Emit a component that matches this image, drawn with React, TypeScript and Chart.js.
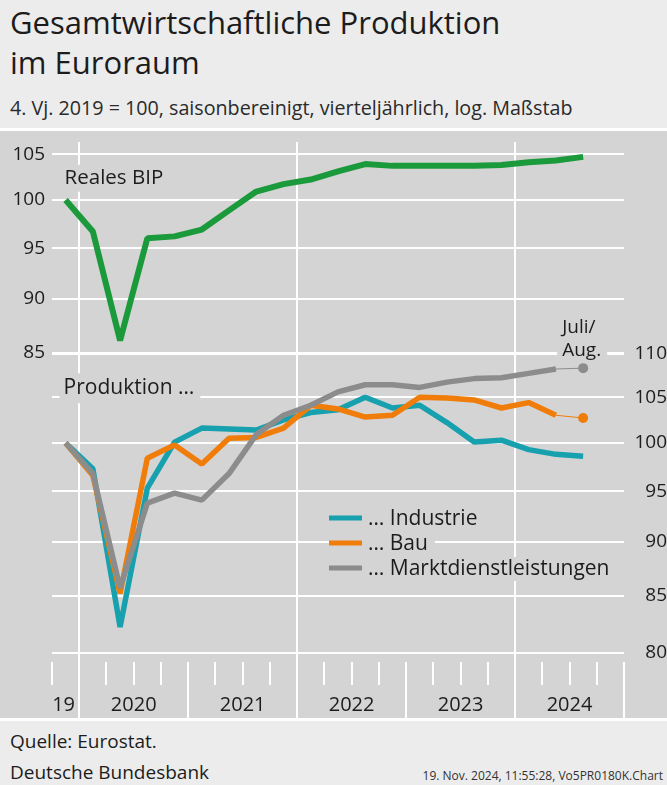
import React, { useEffect, useRef } from "react";
import { Chart, registerables } from "chart.js";

Chart.register(...registerables);

// ---------- data ----------
const quarters = [
  "4. Vj. 2019",
  "1. Vj. 2020", "2. Vj. 2020", "3. Vj. 2020", "4. Vj. 2020",
  "1. Vj. 2021", "2. Vj. 2021", "3. Vj. 2021", "4. Vj. 2021",
  "1. Vj. 2022", "2. Vj. 2022", "3. Vj. 2022", "4. Vj. 2022",
  "1. Vj. 2023", "2. Vj. 2023", "3. Vj. 2023", "4. Vj. 2023",
  "1. Vj. 2024", "2. Vj. 2024", "3. Vj. 2024", "4. Vj. 2024",
];

const bip = [100, 96.7, 86.1, 96.0, 96.2, 96.9, 98.9, 100.9, 101.7, 102.2, 103.1, 103.9, 103.7, 103.7, 103.7, 103.7, 103.8, 104.1, 104.3, 104.7];
const industrie = [100, 97.3, 82.2, 95.3, 100.1, 101.6, 101.5, 101.4, 102.5, 103.3, 103.6, 105.0, 103.8, 104.1, 102.2, 100.1, 100.3, 99.3, 98.8, 98.6];
const bau = [100, 96.6, 85.2, 98.4, 99.8, 97.8, 100.5, 100.6, 101.6, 104.1, 103.7, 102.8, 103.0, 105.0, 104.9, 104.7, 103.8, 104.4, 103.0];
const marktdienst = [100, 96.8, 85.7, 93.8, 94.8, 94.1, 96.8, 100.9, 103.0, 104.1, 105.6, 106.4, 106.4, 106.1, 106.7, 107.1, 107.2, 107.7, 108.2];
const bauJulAug = 102.7;
const marktdienstJulAug = 108.3;

const bipTicks = [85, 90, 95, 100, 105];
const prodTicks = [80, 85, 90, 95, 100, 105, 110];

const legendItems = ["… Industrie", "… Bau", "… Marktdienstleistungen"];

// ---------- styles ----------
const FONT = "'Open Sans', 'Noto Sans', sans-serif";
const TEXT = "#1c1c1c";
const PLOT_BG = "#d4d4d4";
const GREEN = "#1b9a3b";
const TEAL = "#17a0ad";
const ORANGE = "#f07d0a";
const GREY = "#8c8c8c";
const legendColors = [TEAL, ORANGE, GREY];

const yearOf = (i: number) => parseInt(quarters[i].slice(-4), 10);

const tail = (arr: number[], last: number) =>
  quarters.map((_, i) => (i === arr.length - 1 ? arr[arr.length - 1] : i === arr.length ? last : null));

function boxText(ctx: CanvasRenderingContext2D, text: string, x: number, y: number, padL: number, padR: number, padT: number, padB: number) {
  const w = ctx.measureText(text).width;
  ctx.fillStyle = PLOT_BG;
  ctx.fillRect(x - padL, y - padT, w + padL + padR, padT + padB);
  ctx.fillStyle = TEXT;
  ctx.fillText(text, x, y);
  return w;
}

const decorPlugin = {
  id: "decor",
  beforeDatasetsDraw(chart: any) {
    const { ctx, chartArea, scales } = chart;
    const xs = scales.x;
    const y2 = scales.y2;
    const n = quarters.length;
    const step = xs.getPixelForValue(1) - xs.getPixelForValue(0);
    const x0 = xs.getPixelForValue(0) - step / 2;
    ctx.save();
    // vertical grid lines and quarter ticks
    ctx.strokeStyle = "#ffffff";
    ctx.lineWidth = 2;
    for (let i = 0; i <= n; i++) {
      const bx = Math.round(x0 + i * step);
      const isYear = i === n || quarters[i].startsWith("1.");
      const year = i < n ? yearOf(i) : yearOf(n - 1) + 1;
      let top = chartArea.bottom;
      let bottom = chartArea.bottom + 23;
      if (isYear) {
        bottom = chart.height;
        if (i < n && year % 2 === 0) top = chartArea.top;
      }
      ctx.beginPath();
      ctx.moveTo(bx, top);
      ctx.lineTo(bx, bottom);
      ctx.stroke();
    }
    // year labels
    ctx.font = `20px ${FONT}`;
    ctx.fillStyle = TEXT;
    ctx.textAlign = "center";
    ctx.textBaseline = "alphabetic";
    const groups: Record<number, number[]> = {};
    quarters.forEach((_, i) => {
      const yr = yearOf(i);
      (groups[yr] = groups[yr] || []).push(i);
    });
    Object.keys(groups).forEach((k) => {
      const idx = groups[+k];
      const a = x0 + idx[0] * step;
      const b = x0 + (idx[idx.length - 1] + 1) * step;
      const label = +k === 2019 ? "19" : k;
      ctx.fillText(label, (a + b) / 2 - (+k === 2019 ? 2 : 0), chartArea.bottom + 49);
    });

    ctx.textAlign = "left";
    ctx.textBaseline = "middle";
    // "Reales BIP"
    ctx.font = `20.5px ${FONT}`;
    boxText(ctx, "Reales BIP", xs.getPixelForValue(0) - 1, scales.y.getPixelForValue(102.4), 5, 6, 13, 14);
    // "Produktion ..."
    ctx.font = `21px ${FONT}`;
    boxText(ctx, "Produktion …", xs.getPixelForValue(0) - 2, y2.getPixelForValue(106.0), 4, 6, 15, 15);
    // Juli/Aug.
    ctx.font = `19px ${FONT}`;
    ctx.textBaseline = "alphabetic";
    const jx = xs.getPixelForValue(bau.length) - 21;
    const yAug = y2.getPixelForValue(110) + 2;
    const wAug = ctx.measureText("Aug.").width;
    ctx.fillStyle = PLOT_BG;
    ctx.fillRect(jx - 5, yAug - 42, wAug + 11, 48);
    ctx.fillStyle = TEXT;
    ctx.fillText("Juli/", jx, yAug - 23);
    ctx.fillText("Aug.", jx, yAug);

    // legend
    ctx.font = `21px ${FONT}`;
    ctx.textBaseline = "middle";
    const lx = chartArea.left + 277;
    legendItems.forEach((t, i) => {
      const ly = chartArea.top + 376 + i * 25;
      ctx.strokeStyle = legendColors[i];
      ctx.lineWidth = 5;
      ctx.beginPath();
      ctx.moveTo(lx, ly);
      ctx.lineTo(lx + 33, ly);
      ctx.stroke();
      boxText(ctx, t, lx + 39, ly + 1, 6, 7, 12, 12);
    });
    ctx.restore();
  },
};

export default function App() {
  const ref = useRef<HTMLCanvasElement>(null);

  useEffect(() => {
    if (!ref.current) return;
    const lineDs = (label: string, data: (number | null)[], color: string, width: number, axis: string, order: number) => ({
      label,
      data,
      yAxisID: axis,
      borderColor: color,
      backgroundColor: color,
      borderWidth: width,
      pointRadius: 0,
      borderJoinStyle: "bevel" as const,
      tension: 0,
      order,
      spanGaps: false,
    });
    const chart = new Chart(ref.current, {
      type: "line",
      data: {
        labels: quarters,
        datasets: [
          lineDs("Reales BIP", bip, GREEN, 6, "y", 0),
          lineDs("Industrie", industrie, TEAL, 5.5, "y2", 3),
          lineDs("Bau", bau, ORANGE, 5.5, "y2", 2),
          lineDs("Marktdienstleistungen", marktdienst, GREY, 5.5, "y2", 1),
          {
            ...lineDs("Bau Juli/Aug.", tail(bau, bauJulAug), ORANGE, 1, "y2", 2),
            pointRadius: (c: any) => (c.dataIndex === bau.length ? 5 : 0),
            pointBorderWidth: 0,
          },
          {
            ...lineDs("Marktdienstleistungen Juli/Aug.", tail(marktdienst, marktdienstJulAug), GREY, 1, "y2", 1),
            pointRadius: (c: any) => (c.dataIndex === marktdienst.length ? 5 : 0),
            pointBorderWidth: 0,
          },
        ] as any,
      },
      options: {
        animation: false,
        responsive: false,
        maintainAspectRatio: false,
        devicePixelRatio: 1,
        layout: { padding: { top: 11, left: 0, right: 0, bottom: 0 } },
        plugins: { legend: { display: false }, tooltip: { enabled: false }, title: { display: false } },
        scales: {
          x: {
            type: "category",
            offset: true,
            grid: { display: false, offset: true },
            border: { display: false },
            ticks: { display: false },
            afterFit: (s: any) => {
              s.height = 56;
              s.paddingLeft = 0;
              s.paddingRight = 0;
            },
          },
          y: {
            type: "logarithmic",
            position: "left",
            min: 61.14,
            max: 106.37,
            afterBuildTicks: (s: any) => {
              s.ticks = bipTicks.map((v) => ({ value: v }));
            },
            afterFit: (s: any) => {
              s.width = 52;
              s.paddingTop = 0;
              s.paddingBottom = 0;
            },
            grid: { color: "#ffffff", lineWidth: 2, drawTicks: false },
            border: { display: false },
            ticks: {
              autoSkip: false,
              padding: 7,
              color: TEXT,
              font: { family: FONT, size: 19 },
              callback: (v: any) => String(v),
            },
          },
          y2: {
            type: "logarithmic",
            position: "right",
            min: 79.2,
            max: 137.79,
            afterBuildTicks: (s: any) => {
              s.ticks = prodTicks.map((v) => ({ value: v }));
            },
            afterFit: (s: any) => {
              s.width = 43;
              s.paddingTop = 0;
              s.paddingBottom = 0;
            },
            grid: { color: "#ffffff", lineWidth: 2, drawTicks: false },
            border: { display: false },
            ticks: {
              autoSkip: false,
              padding: 6,
              crossAlign: "far",
              color: TEXT,
              font: { family: FONT, size: 19 },
              callback: (v: any) => String(v),
            },
          },
        },
      } as any,
      plugins: [decorPlugin],
    });
    return () => chart.destroy();
  }, []);

  const abs = (s: React.CSSProperties): React.CSSProperties => ({ position: "absolute", whiteSpace: "nowrap", ...s });

  return (
    <div style={abs({ left: 0, top: 0, width: 667, height: 785, background: "#ececec", overflow: "hidden", fontFamily: FONT, color: TEXT })}>
      <div style={abs({ left: 10, top: 7, fontSize: 31, lineHeight: "31px" })}>Gesamtwirtschaftliche Produktion</div>
      <div style={abs({ left: 10, top: 47, fontSize: 31, lineHeight: "31px" })}>im Euroraum</div>
      <div style={abs({ left: 10, top: 98, fontSize: 19.7, lineHeight: "20px", color: "#2a2a2a" })}>
        4. Vj. 2019 = 100, saisonbereinigt, vierteljährlich, log. Maßstab
      </div>
      <div style={abs({ left: 0, top: 128, width: 667, height: 3, background: "#ffffff" })} />
      <div style={abs({ left: 0, top: 131, width: 667, height: 587, background: PLOT_BG })}>
        <canvas ref={ref} width={667} height={587} style={{ display: "block", width: 667, height: 587 }} />
      </div>
      <div style={abs({ left: 0, top: 718, width: 667, height: 3, background: "#ffffff" })} />
      <div style={abs({ left: 10, top: 732, fontSize: 19, lineHeight: "19px" })}>Quelle: Eurostat.</div>
      <div style={abs({ left: 10, top: 763, fontSize: 19, lineHeight: "19px" })}>Deutsche Bundesbank</div>
      <div style={abs({ right: 4, top: 770, fontSize: 12, lineHeight: "12px", color: "#333" })}>
        19. Nov. 2024, 11:55:28, Vo5PR0180K.Chart
      </div>
    </div>
  );
}
